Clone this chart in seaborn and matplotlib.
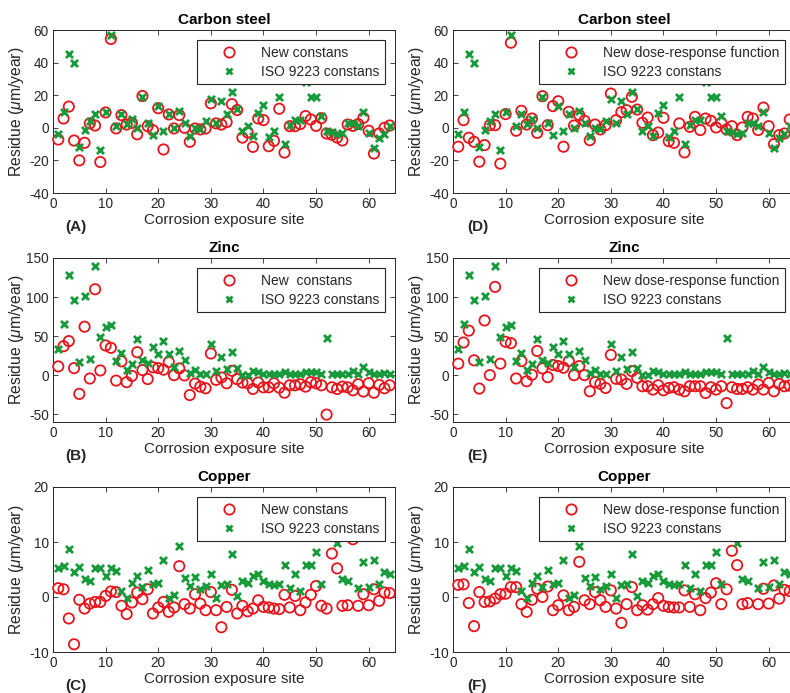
import numpy as np
import pandas as pd
import matplotlib
matplotlib.use("Agg")
import matplotlib.pyplot as plt
import seaborn as sns
from matplotlib.lines import Line2D

sites = list(range(1, 65))

# Carbon steel
cs_new = [-7.2, 5.7, 13, -7.8, -20, -9.2, 2.7, 1.4, -21, 9.4, 54.5, -0.4, 7.8, 2, 3, -4,
          19.5, 1, -1.5, 12, -13.3, 8.2, -0.4, 7.8, 0, -8.6, -0.4, -1, -0.4, 15, 2.7, 2,
          3.5, 14.5, 10.9, -6, -2.9, -11.7, 5.7, 4.7, -11.3, -8, 11.7, -15.2, 1, 1, 2.3, 7.2,
          5.1, 1.2, 5.9, -3.5, -4.3, -6, -7.8, 2, 1.2, 2.3, 6.1, -1.8, -15.8, -3.5, 0, 1.4]
cs_drf = [-11.6, 4.7, -6.1, -8.6, -20.8, -10.6, 1.6, 1.6, -22, 8.4, 52.2, -1.8, 10.4, 2, 5.7, -3.1,
          19.4, 1.6, 13.3, 16.3, -11.6, 9.8, 1.4, 7.8, 4.3, -7.6, 2, -1, 1.6, 21, 4.7, 9.6,
          10.8, 19, 11.2, 3.1, 6.3, -4.5, -2.9, 6.1, -8.2, -9.2, 2.7, -15.1, 0.6, 6.7, -1.4, 5.7,
          4.3, 0.2, 3.1, -1, 1, -4.5, 0.2, 6.7, 5.7, -1.4, 12.4, 1, -10, -4.5, -3.5, 5.1]
cs_iso = [-4.1, 9.8, 45, 40, -11.7, -1.4, 4.3, 8.2, -13.7, 9.8, 56.8, 1.4, 8.4, 2.3, 5.1, 0,
          19, 2.7, -4.5, 13.3, -1.8, 8.4, 0, 10.2, 3.1, -5.1, 0, -0.6, 4.3, 17.6, 3.1, 16.4,
          8.4, 21.7, 11.3, -2, 1, -5.1, 8.8, 13.7, -5.5, -2, 19, -10.2, 1.6, 4.7, 4.7, 28.3,
          19, 19, 7.2, -2, -2.5, -3.5, -3.1, 3.1, 3.1, 1, 9.4, -3.1, -12.3, -6.1, -3.5, 1.4]

# Zinc
zn_new = [11.2, 37, 43.6, 9, -24, 62, -4.3, 110, 6, 38, 35, -7, 17.7, -9, -1, 29.4,
          6.5, -5, 10, 9, 7, 16.8, 0, 8.6, -0.4, -25.5, -10.8, -14.7, -16.8, 27.7, -6, -3,
          -10.4, 5.6, -5.2, -9.5, -10.4, -17.7, -9.5, -15.6, -15.6, -10.4, -16, -22.5, -13, -13, -11.7, -14.7,
          -9, -10.4, -13, -50.5, -15.6, -17.7, -14.7, -15.6, -19.4, -11.7, -21, -10.4, -22.5, -12.5, -16.8, -13]
zn_drf = [14.7, 41.8, 57, 19, -17.2, 70, 0, 113, 14.7, 42.7, 41, -4.3, 18, -7.8, 0.4, 31,
          8.6, -2.6, 13, 11.6, 9.5, 18, 0, 11.6, 0, -20.7, -9, -11.2, -16.4, 25.9, -4.7, -5.6,
          -11.2, 5.2, -3.4, -14.2, -14.2, -18.5, -13, -19.4, -16.4, -15.5, -18.5, -20.7, -14.2, -14.2, -14.2, -22.8,
          -15.5, -18.5, -14.2, -35.8, -15.5, -17.7, -17.7, -15.5, -18.5, -12, -18.5, -10, -20.7, -11.2, -14.2, -13.4]
zn_iso = [33, 65, 128, 96, 17, 101.5, 20.7, 140, 49, 62, 64, 17.7, 28.5, 6, 14.3, 46.7,
          20, 15.5, 36, 27, 43.6, 27.7, 10, 30.7, 20, 2.6, 6, 1.7, 1.7, 39.3, 4.8, 23.8,
          8.2, 30, 9, 0.4, 0.4, 4.8, 3.5, 1.7, 1.7, 1.7, 1.7, 3.5, 1.7, 0.9, 1.7, 3.5,
          3.5, 3.5, 0.9, 47, 1.7, 1.7, 0.9, 1.7, 4.8, 0.9, 10, 3.5, 1.7, 1.7, 2.6, 0.9]

# Copper
cu_new = [1.6, 1.4, -3.9, -8.6, -0.5, -2.1, -1.2, -0.9, -0.9, 0.2, 1, 0.9, -1.6, -3.1, -1, 0.8,
          -0.4, 1.4, -3, -1.9, -0.9, -2.7, -1.9, 5.6, -1.3, -2.1, 0.5, -1.2, -2.4, 0.9, -2.4, -5.5,
          -1.8, 1.3, -3, -1.6, -2.6, -2.1, -0.6, -1.8, -1.9, -2.1, -2.2, 0.4, -1.9, 0.2, -2.4, -1,
          0.4, 2, -1.6, -2.1, 7.9, 5.2, -1.6, -1.5, 10.5, -1.6, 0.5, -1.5, 1.4, -0.7, 0.8, 0.7]
cu_drf = [2.2, 2.3, -1.1, -5.3, 0.9, -0.9, -0.8, -0.3, 0.5, 0.6, 1.8, 1.8, -1.3, -2.7, -0.5, 1.5,
          0, 1.9, -2.4, -1.5, 0.3, -2.4, -1.8, 6.4, -0.6, -1.3, 0.9, -0.6, -1.8, 1.2, -2.1, -4.7,
          -1.3, 1.8, -2.4, -1.5, -2.3, -1.3, -0.2, -1.6, -1.8, -1.9, -1.9, 1.2, -1.8, 0.5, -2.4, -0.2,
          0.8, 2.5, -1.3, 1.4, 8.4, 5.8, -1.3, -1.1, 11.2, -1.3, 1.5, -1.2, 2.1, -0.3, 1.3, 1.1]
cu_iso = [5.3, 5.6, 8.8, 4.5, 5.5, 3.3, 2.9, 5.3, 5.3, 3.8, 5.2, 4.7, 1.1, -0.2, 2.6, 3.9,
          1.9, 4.9, 2.3, 2.6, 6.7, -0.2, 0.4, 9.2, 3.5, 2, 3.6, 1.5, 2, 4.1, -0.1, 2.1,
          2.4, 7.8, 0.2, 3, 2.6, 3.9, 4.1, 2.9, 2.4, 2.1, 2.4, 5.9, 1.7, 4.1, 1.1, 5.9,
          5.8, 8.2, 2.4, 12, 11, 9.9, 3.2, 3, 12, 1.7, 6.4, 1.9, 6.7, 2.4, 4.5, 4.1]

titles = ["Carbon steel", "Zinc", "Copper"]
letters = [["(A)", "(D)"], ["(B)", "(E)"], ["(C)", "(F)"]]
left_labels = ["New constans", "New  constans", "New constans"]
right_label = "New dose-response function"
iso_label = "ISO 9223 constans"
ylims = [(-40, 60), (-60, 150), (-10, 20)]
yticks = [[-40, -20, 0, 20, 40, 60], [-50, 0, 50, 100, 150], [-10, 0, 10, 20]]

rows = [(cs_new, cs_drf, cs_iso), (zn_new, zn_drf, zn_iso), (cu_new, cu_drf, cu_iso)]

sns.set_theme(style="white")
plt.rcParams["font.family"] = ["Liberation Sans", "DejaVu Sans"]
plt.rcParams["mathtext.fontset"] = "custom"
plt.rcParams["mathtext.it"] = "Liberation Sans:italic"
plt.rcParams["mathtext.rm"] = "Liberation Sans"
plt.rcParams["axes.unicode_minus"] = False

RED = "#e8141c"
GREEN = "#179b3a"
DARK = "#262626"

fig = plt.figure(figsize=(7.9, 6.93), dpi=100)
W, H = 790, 693
row_px = [(30, 193), (258, 422), (487, 652)]
col_px = [(53, 395), (453, 795)]

for r in range(3):
    for c in range(2):
        x0, x1 = col_px[c]
        t, b = row_px[r]
        aw, ah = x1 - x0, b - t
        ax = fig.add_axes([x0 / W, 1 - b / H, aw / W, ah / H])
        new_vals = rows[r][c]
        iso_vals = rows[r][2]
        df = pd.DataFrame({"site": sites, "new": new_vals, "iso": iso_vals})
        sns.scatterplot(data=df, x="site", y="new", ax=ax, marker="o", s=55,
                        facecolors="none", edgecolor=RED, linewidth=1.3, zorder=3,
                        clip_on=False)
        sns.scatterplot(data=df, x="site", y="iso", ax=ax, marker="x", s=26,
                        color=GREEN, linewidth=2.0, zorder=4, clip_on=False)
        ax.set_xlim(0, 65)
        ax.set_ylim(*ylims[r])
        ax.set_xticks([0, 10, 20, 30, 40, 50, 60])
        ax.set_yticks(yticks[r])
        ax.tick_params(direction="in", length=3.5, width=0.6, colors=DARK,
                       labelsize=9.8, top=True, right=True, bottom=True, left=True, pad=3)
        for sp in ax.spines.values():
            sp.set_color(DARK)
            sp.set_linewidth(0.7)
        ax.set_title(titles[r], fontsize=11, fontweight="bold", color="black", pad=4)
        ax.set_xlabel("Corrosion exposure site", fontsize=11, color=DARK, labelpad=1)
        ax.set_ylabel(r"Residue ($\mu$m/year)", fontsize=11.3, color=DARK)
        ax.yaxis.set_label_coords(-27 / aw, 0.5)
        lab = left_labels[r] if c == 0 else right_label
        handles = [Line2D([], [], linestyle="", marker="o", markersize=7.4,
                          markerfacecolor="none", markeredgecolor=RED, markeredgewidth=1.3),
                   Line2D([], [], linestyle="", marker="x", markersize=5,
                          color=GREEN, markeredgewidth=2.0)]
        leg = ax.legend(handles, [lab, iso_label], loc="upper right", fontsize=10,
                        frameon=True, fancybox=False, framealpha=1, edgecolor=DARK,
                        handlelength=3.8, handletextpad=0.4, borderpad=0.4,
                        labelspacing=0.35, borderaxespad=0.75)
        leg.get_frame().set_linewidth(0.8)
        leg.set_zorder(10)
        lx = (65 - x0) / aw if c == 0 else (467 - x0) / aw
        ax.text(lx, -34 / ah, letters[r][c], transform=ax.transAxes,
                fontsize=11, fontweight="bold", color=DARK, ha="left", va="center")

fig.savefig("out.png", dpi=100)
